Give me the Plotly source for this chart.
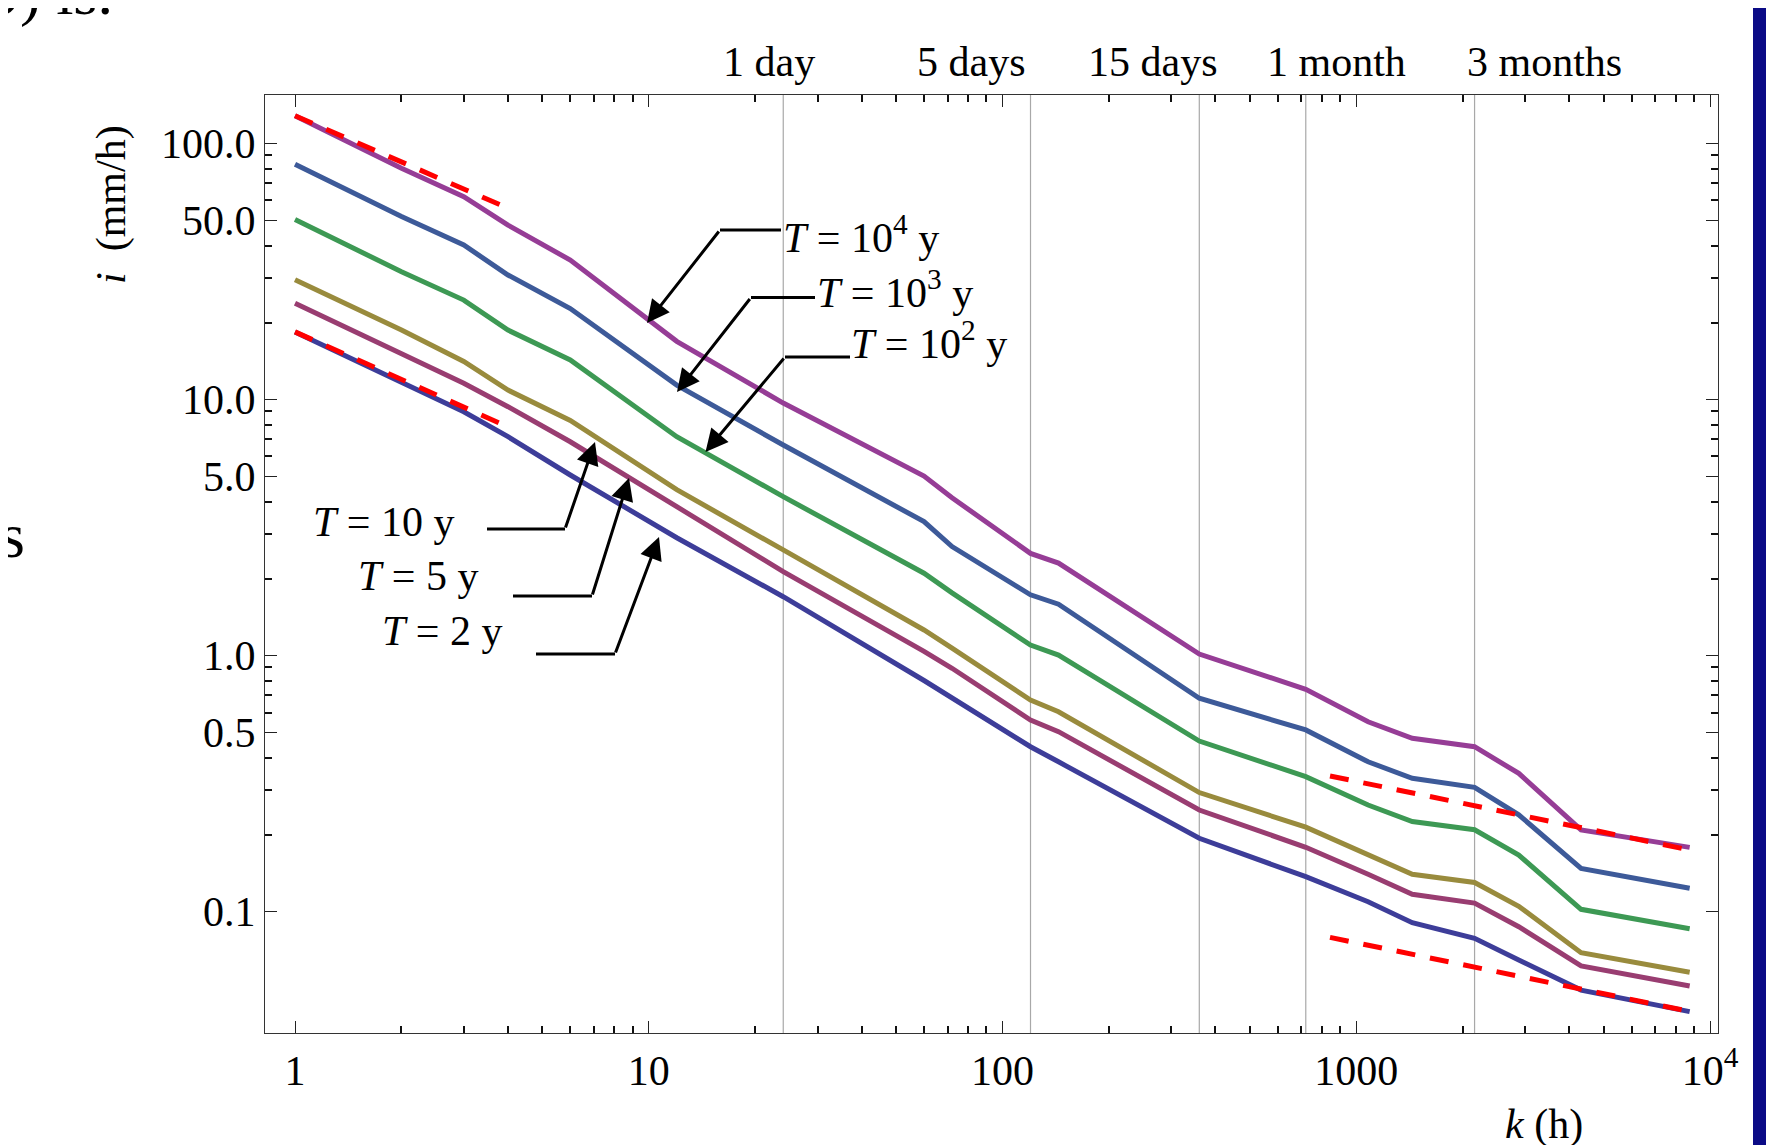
import plotly.graph_objects as go
import numpy as np

# ---------------- data ----------------
k_hours = [1, 2, 3, 4, 6, 12, 24, 60, 72, 120, 144, 360, 720, 1080, 1440, 2160, 2880, 4320, 8760]

i_T10000 = [128.6, 80.2, 62.1, 48.1, 35.1, 16.9, 9.7, 5.03, 4.14, 2.51, 2.30, 1.015, 0.739, 0.552, 0.476, 0.441, 0.347, 0.2086, 0.1784]
i_T1000 = [83.1, 51.9, 40.2, 30.7, 22.7, 11.4, 6.65, 3.34, 2.67, 1.73, 1.59, 0.682, 0.513, 0.385, 0.332, 0.306, 0.239, 0.1477, 0.1234]
i_T100 = [50.6, 31.6, 24.5, 18.7, 14.3, 7.17, 4.18, 2.10, 1.76, 1.10, 1.006, 0.464, 0.337, 0.261, 0.225, 0.209, 0.1665, 0.1022, 0.0858]
i_T10 = [29.4, 18.7, 14.1, 10.9, 8.3, 4.45, 2.59, 1.26, 1.07, 0.671, 0.604, 0.292, 0.214, 0.1665, 0.140, 0.130, 0.105, 0.0692, 0.058]
i_T5 = [23.8, 15.2, 11.6, 9.39, 6.85, 3.82, 2.13, 1.04, 0.893, 0.561, 0.505, 0.2496, 0.1785, 0.140, 0.117, 0.108, 0.0874, 0.0614, 0.0513]
i_T2 = [18.4, 11.75, 8.97, 7.17, 5.08, 2.89, 1.70, 0.80, 0.682, 0.441, 0.385, 0.1935, 0.137, 0.1094, 0.0906, 0.0787, 0.0648, 0.0494, 0.0407]

# red dashed asymptotic power-law segments (end points)
fit_short_k = [1, 4.07]
fit_short_upper = [128.6, 55.4]
fit_short_lower = [18.4, 7.75]
fit_long_k = [843, 8970]
fit_long_upper = [0.339, 0.173]
fit_long_lower = [0.0794, 0.0405]

# milestone durations (hours) and their labels
milestone_k = [24, 120, 360, 720, 2160]
milestone_labels = ["1 day", "5 days", "15 days", "1 month", "3 months"]

x_tick_vals = [1, 10, 100, 1000, 10000]
x_tick_text = ["1", "10", "100", "1000", "10<sup>4</sup>"]
y_tick_vals = [0.1, 0.5, 1, 5, 10, 50, 100]
y_tick_text = ["0.1", "0.5", "1.0", "5.0", "10.0", "50.0", "100.0"]

series = [
    ("T = 2 y", i_T2, "#3d3d99"),
    ("T = 5 y", i_T5, "#993d71"),
    ("T = 10 y", i_T10, "#998b3d"),
    ("T = 10^2 y", i_T100, "#3d9954"),
    ("T = 10^3 y", i_T1000, "#3d5a99"),
    ("T = 10^4 y", i_T10000, "#963d96"),
]

# ---------------- layout geometry (page pixel coordinates) ----------------
PAGE_OFF = 8  # default body margin of the html page
FIG_W, FIG_H = 1774, 1145
L, R, T, B = 265, 1718, 95, 1033
W, H = R - L, B - T
X_RANGE = [-0.0848, 4.0226]
Y_RANGE = [-1.4738, 2.1902]
FONT = "Liberation Serif, Times New Roman, serif"


def fx(p):
    return (p - L) / W


def fy(p):
    return (B - p) / H


fig = go.Figure()

# vertical milestone grid lines
for km in milestone_k:
    fig.add_trace(go.Scatter(
        x=[km, km], y=[10 ** Y_RANGE[0], 10 ** Y_RANGE[1]], mode="lines",
        line=dict(color="#a8a8a8", width=1.2), hoverinfo="skip", showlegend=False))

for name, vals, col in series:
    fig.add_trace(go.Scatter(
        x=k_hours, y=vals, mode="lines", name=name,
        line=dict(color=col, width=5), showlegend=False))

for kk, yy in [(fit_short_k, fit_short_upper), (fit_short_k, fit_short_lower),
               (fit_long_k, fit_long_upper), (fit_long_k, fit_long_lower)]:
    fig.add_trace(go.Scatter(
        x=kk, y=yy, mode="lines", line=dict(color="#ff0000", width=5, dash="19px,15px"),
        hoverinfo="skip", showlegend=False))

minor_x = [m * 10 ** d for d in range(0, 4) for m in range(2, 10)]
minor_y = [m * 10 ** d for d in range(-1, 2) for m in [2, 3, 4, 6, 7, 8, 9]]

axis_common = dict(
    showline=True, linecolor="#333333", linewidth=1.3, mirror="ticks",
    ticks="inside", ticklen=12, tickwidth=1, tickcolor="#222222",
    showgrid=False, zeroline=False,
    tickfont=dict(family=FONT, size=42, color="black"),
)

fig.update_xaxes(type="log", range=X_RANGE, tickmode="array", tickvals=x_tick_vals,
                 ticktext=x_tick_text,
                 minor=dict(ticks="inside", ticklen=7, tickwidth=2, tickcolor="#111111",
                            tickmode="array", tickvals=minor_x, showgrid=False),
                 **axis_common)
fig.update_yaxes(type="log", range=Y_RANGE, tickmode="array", tickvals=y_tick_vals,
                 ticktext=y_tick_text,
                 minor=dict(ticks="inside", ticklen=7, tickwidth=2, tickcolor="#111111",
                            tickmode="array", tickvals=minor_y, showgrid=False),
                 **axis_common)

annotations = []
# milestone labels on top
label_cx = [769, 971, 1153, 1336, 1544]
for txt, cx in zip(milestone_labels, label_cx):
    annotations.append(dict(x=fx(cx), y=fy(62), xref="paper", yref="paper", text=txt,
                            showarrow=False, xanchor="center", yanchor="middle",
                            font=dict(family=FONT, size=42, color="black")))

# axis titles
annotations.append(dict(x=fx(112), y=fy(205), xref="paper", yref="paper",
                        text="<i>i</i>  (mm/h)", textangle=-90, showarrow=False,
                        xanchor="center", yanchor="middle",
                        font=dict(family=FONT, size=42, color="black")))
annotations.append(dict(x=fx(1544), y=fy(1124), xref="paper", yref="paper",
                        text="<i>k</i> (h)", showarrow=False,
                        xanchor="center", yanchor="middle",
                        font=dict(family=FONT, size=42, color="black")))

# curve labels: (text, text_left_x, text_center_y, hline(x0,x1,y), tail(x,y), tip(x,y))
curve_labels = [
    ("<i>T</i> = 10<sup>4</sup> y", 781, 234, (720, 781, 230), (720, 230), (647, 323)),
    ("<i>T</i> = 10<sup>3</sup> y", 815, 289, (751, 815, 297.5), (751, 297.5), (677, 392)),
    ("<i>T</i> = 10<sup>2</sup> y", 849, 340, (785, 850, 357), (785, 357), (705.5, 452)),
    ("<i>T</i> = 10 y", 311, 522, (487, 565, 529), (565, 529), (595, 442)),
    ("<i>T</i> = 5 y", 356, 576, (513, 592, 596), (592, 596), (629, 478)),
    ("<i>T</i> = 2 y", 380, 631, (536, 615, 654), (615, 654), (659, 537)),
]
shapes = []
for txt, tx, ty, hl, tail, tip in curve_labels:
    annotations.append(dict(x=fx(tx), y=fy(ty), xref="paper", yref="paper", text=txt,
                            showarrow=False, xanchor="left", yanchor="middle",
                            font=dict(family=FONT, size=42, color="black")))
    shapes.append(dict(type="line", xref="paper", yref="paper",
                       x0=fx(hl[0]), x1=fx(hl[1]), y0=fy(hl[2]), y1=fy(hl[2]),
                       line=dict(color="black", width=3)))
    annotations.append(dict(x=fx(tip[0]), y=fy(tip[1]), xref="paper", yref="paper",
                            text="", showarrow=True, ax=tail[0] - tip[0], ay=tail[1] - tip[1],
                            arrowhead=2, arrowsize=1.5, arrowwidth=3, arrowcolor="black",
                            standoff=0, startstandoff=0))

# page artefacts around the figure (surrounding document)
annotations.append(dict(x=fx(115), y=fy(30), xref="paper", yref="paper", text="9) is.",
                        showarrow=False, xanchor="right", yanchor="bottom",
                        font=dict(family=FONT, size=62, color="black")))
annotations.append(dict(x=fx(27), y=fy(573), xref="paper", yref="paper", text="s",
                        showarrow=False, xanchor="right", yanchor="bottom",
                        font=dict(family=FONT, size=64, color="black")))
shapes.append(dict(type="rect", xref="paper", yref="paper", x0=fx(1753), x1=fx(1800),
                   y0=fy(-30), y1=fy(1180), fillcolor="#0b0b86", line=dict(width=0)))

fig.update_layout(
    width=FIG_W, height=FIG_H,
    margin=dict(l=L - PAGE_OFF, r=FIG_W - (R - PAGE_OFF), t=T - PAGE_OFF,
                b=FIG_H - (B - PAGE_OFF), pad=0),
    paper_bgcolor="white", plot_bgcolor="white",
    showlegend=False,
    annotations=annotations, shapes=shapes,
    font=dict(family=FONT, color="black"),
)

fig.write_html("out.html")
